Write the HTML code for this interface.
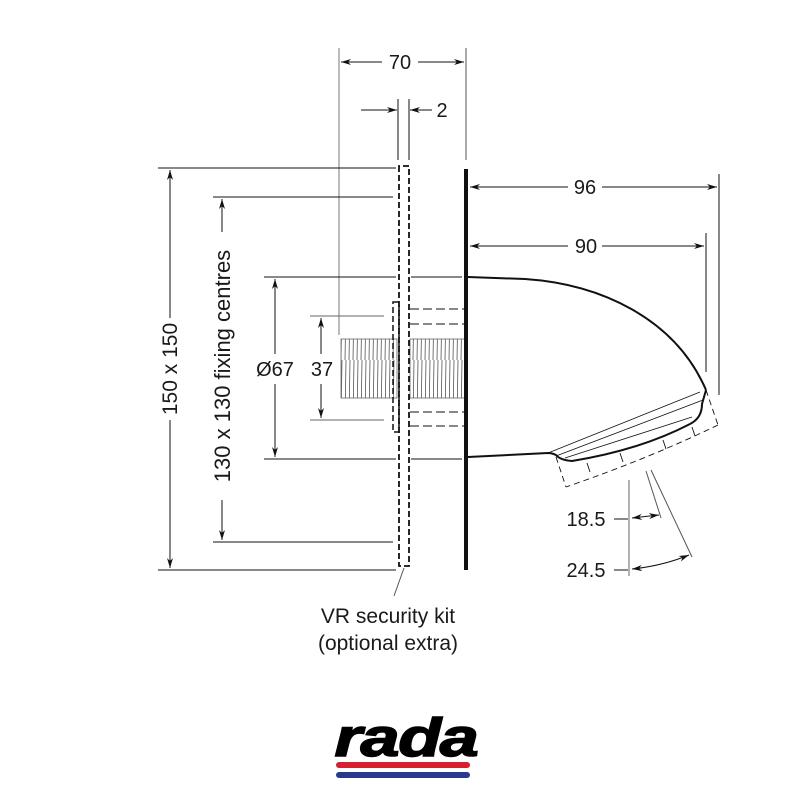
<!DOCTYPE html>
<html><head><meta charset="utf-8"><style>
html,body{margin:0;padding:0;background:#fff;}
svg{display:block;}
text{font-family:"Liberation Sans",sans-serif;fill:#1a1a1a;}
</style></head><body>
<svg width="800" height="800" viewBox="0 0 800 800" xmlns="http://www.w3.org/2000/svg">
<defs>
<marker id="a" viewBox="0 0 10 6" refX="10" refY="3" markerWidth="10" markerHeight="6" orient="auto-start-reverse" markerUnits="userSpaceOnUse">
<path d="M0,0 L10,3 L0,6 L3,3 z" fill="#111"/></marker>
<pattern id="thr" width="4" height="60" patternUnits="userSpaceOnUse">
<line x1="2" y1="0" x2="1" y2="60" stroke="#555" stroke-width="0.8"/></pattern>
</defs>
<g stroke="#111" stroke-width="1" fill="none">
<line x1="339" y1="48" x2="339" y2="335" stroke="#777"/>
<line x1="466" y1="48" x2="466" y2="160" stroke="#555"/>
<line x1="341" y1="62" x2="382" y2="62" marker-start="url(#a)"/>
<line x1="418" y1="62" x2="464" y2="62" marker-end="url(#a)"/>
<line x1="398" y1="99" x2="398" y2="160"/>
<line x1="409" y1="99" x2="409" y2="160"/>
<line x1="361" y1="110" x2="397" y2="110" marker-end="url(#a)"/>
<line x1="432" y1="110" x2="410" y2="110" marker-end="url(#a)"/>
<line x1="158" y1="168" x2="396" y2="168"/>
<line x1="158" y1="570" x2="396" y2="570"/>
<line x1="170" y1="170" x2="170" y2="318" marker-start="url(#a)"/>
<line x1="170" y1="420" x2="170" y2="568" marker-end="url(#a)"/>
<line x1="213" y1="197" x2="393" y2="197"/>
<line x1="213" y1="542" x2="393" y2="542"/>
<line x1="222" y1="199" x2="222" y2="232" marker-start="url(#a)"/>
<line x1="222" y1="500" x2="222" y2="540" marker-end="url(#a)"/>
<line x1="264" y1="277" x2="396" y2="277"/><line x1="411" y1="277" x2="462" y2="277"/>
<line x1="264" y1="459" x2="396" y2="459"/><line x1="411" y1="459" x2="462" y2="459"/>
<line x1="275" y1="279" x2="275" y2="354" marker-start="url(#a)"/>
<line x1="275" y1="384" x2="275" y2="457" marker-end="url(#a)"/>
<line x1="310" y1="316" x2="384" y2="316" stroke="#666"/>
<line x1="310" y1="420" x2="384" y2="420" stroke="#666"/>
<line x1="321" y1="318" x2="321" y2="354" marker-start="url(#a)"/>
<line x1="321" y1="384" x2="321" y2="418" marker-end="url(#a)"/>
<rect x="341" y="339" width="56" height="59" fill="url(#thr)" stroke="#666" stroke-width="0.8"/>
<rect x="410" y="339" width="55" height="59" fill="url(#thr)" stroke="#666" stroke-width="0.8"/>
<path d="M399,166 L399,566 L409,566 L409,166 Z" stroke-width="1.8" stroke-dasharray="6,3"/>
<rect x="393" y="302" width="6" height="130" stroke-width="1.5" stroke-dasharray="6,3"/>
<line x1="410" y1="309" x2="464" y2="309" stroke-dasharray="9,4"/>
<line x1="410" y1="324" x2="464" y2="324" stroke-dasharray="9,4"/>
<line x1="410" y1="412" x2="464" y2="412" stroke-dasharray="9,4"/>
<line x1="410" y1="426" x2="464" y2="426" stroke-dasharray="9,4"/>
<line x1="404" y1="568" x2="394" y2="596" stroke="#555"/>
<line x1="466" y1="169" x2="466" y2="570" stroke-width="4"/>
<line x1="719" y1="174" x2="719" y2="395"/>
<line x1="706" y1="233" x2="706" y2="372"/>
<line x1="470" y1="187" x2="568" y2="187" marker-start="url(#a)"/>
<line x1="602" y1="187" x2="717" y2="187" marker-end="url(#a)"/>
<line x1="470" y1="246" x2="568" y2="246" marker-start="url(#a)"/>
<line x1="602" y1="246" x2="704" y2="246" marker-end="url(#a)"/>
<path d="M468,277 L525,279 C600,284 675,318 706,390" stroke-width="2"/>
<path d="M706,390 L702,404 Q702,418 690,424 Q640,450 572,461 Q560,460 556,455 Q552,453 548,453 L468,457" stroke-width="2"/>
<path d="M548,453 L700,392 M556,456 L703,400 M565,458 L692,417" stroke-width="0.8"/>
<path d="M706,390 L718,425 M556,457 L566,487 M718,425 Q650,458 566,487" stroke-dasharray="6,4" stroke-width="0.9"/>
<path d="M587,463 L590,472 M620,453 L623,462 M663,440 L666,449 M692,427 L695,436" stroke-width="0.9"/>
<line x1="629" y1="480" x2="629" y2="576" stroke="#666"/>
<line x1="646" y1="471" x2="661" y2="518" stroke="#555"/>
<line x1="651" y1="470" x2="692" y2="557" stroke="#555"/>
<line x1="614" y1="519" x2="628" y2="519"/>
<line x1="614" y1="570" x2="628" y2="570"/>
<line x1="632" y1="518" x2="659" y2="515" marker-start="url(#a)" marker-end="url(#a)"/>
<path d="M632,569 Q662,566 689,555" marker-start="url(#a)" marker-end="url(#a)"/>
</g>
<g font-size="20" text-anchor="middle">
<text x="400" y="69">70</text>
<text x="442" y="117">2</text>
<text x="585" y="194">96</text>
<text x="586" y="253">90</text>
<text x="275" y="376">Ø67</text>
<text x="322" y="376">37</text>
<text transform="translate(177,369) rotate(-90)" font-size="21">150 x 150</text>
<text transform="translate(230,366) rotate(-90)" font-size="22">130 x 130 fixing centres</text>
<text x="586" y="526">18.5</text>
<text x="586" y="577">24.5</text>
<text x="388" y="623" font-size="21">VR security kit</text>
<text x="388" y="650" font-size="21">(optional extra)</text>
</g>
<text x="406" y="756" text-anchor="middle" font-size="54" font-weight="bold" font-style="italic" style="letter-spacing:-1px;fill:#000;stroke:#000;stroke-width:1.5" transform="translate(406 0) scale(1.3 1) translate(-406 0)">rada</text>
<rect x="336" y="762" width="134" height="6" rx="3" fill="#d4202f"/>
<rect x="336" y="772" width="134" height="6" rx="3" fill="#2a3990"/>
</svg>
</body></html>
